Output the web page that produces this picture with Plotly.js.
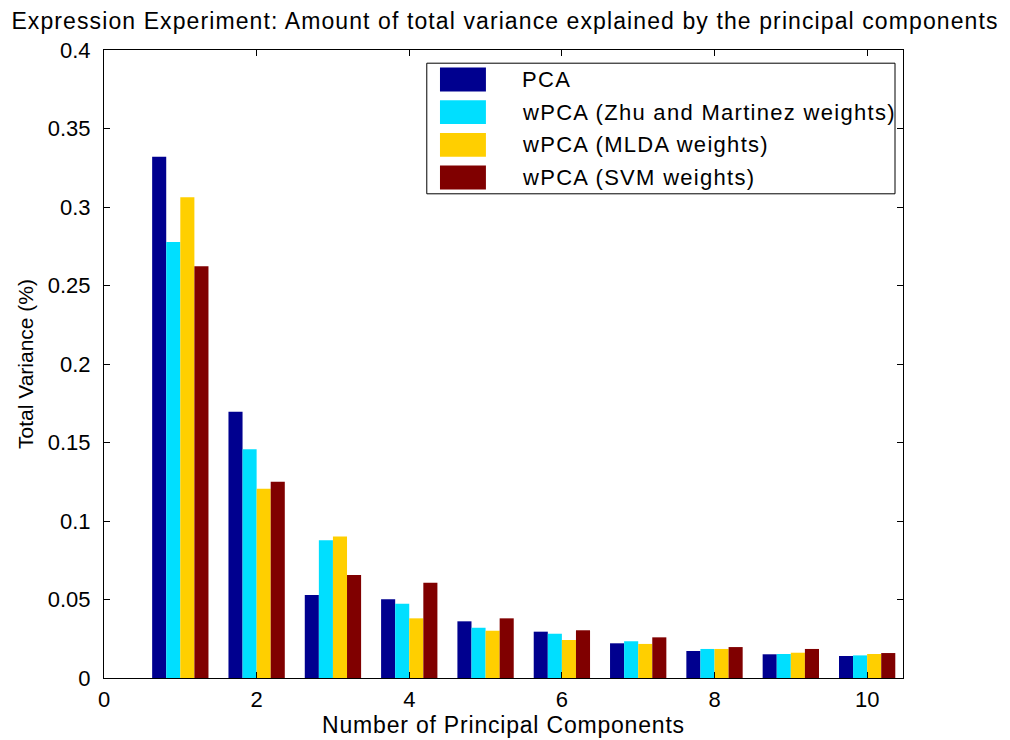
<!DOCTYPE html>
<html>
<head>
<meta charset="utf-8">
<script src="https://cdn.plot.ly/plotly-3.0.1.min.js"></script>
<style>
html,body{margin:0;padding:0;background:#fff;}
#chart{width:1010px;height:740px;}
.gtitle{letter-spacing:1.1px;}
.g-xtitle text{letter-spacing:0.8px;}
.annotation-text{letter-spacing:1.3px;}
</style>
</head>
<body>
<div id="chart"></div>
<script>
// Data
const components = [1, 2, 3, 4, 5, 6, 7, 8, 9, 10];
const seriesNames = [
  "PCA",
  "wPCA (Zhu and Martinez weights)",
  "wPCA (MLDA weights)",
  "wPCA (SVM weights)"
];
const pcaValues     = [0.332, 0.1696, 0.0529, 0.0501, 0.0361, 0.0295, 0.0221, 0.0172, 0.0151, 0.0140];
const zhuValues     = [0.2777, 0.1457, 0.0877, 0.0473, 0.0320, 0.0282, 0.0234, 0.0185, 0.0153, 0.0144];
const mldaValues    = [0.3062, 0.1206, 0.0902, 0.0380, 0.0301, 0.0242, 0.0217, 0.0185, 0.0161, 0.0153];
const svmValues     = [0.2623, 0.1250, 0.0656, 0.0607, 0.0380, 0.0304, 0.0259, 0.0197, 0.0185, 0.0159];
const xTickValues = [0, 2, 4, 6, 8, 10];
const yTickValues = [0, 0.05, 0.1, 0.15, 0.2, 0.25, 0.3, 0.35, 0.4];
const yTickLabels = ["0", "0.05", "0.1", "0.15", "0.2", "0.25", "0.3", "0.35", "0.4"];

const colors = ["#00008F", "#00DFFF", "#FFCF00", "#800000"];
const allValues = [pcaValues, zhuValues, mldaValues, svmValues];
const FONT = "Liberation Sans, Arial, Helvetica, sans-serif";

const traces = allValues.map((vals, i) => ({
  type: "bar",
  x: components,
  y: vals,
  name: seriesNames[i],
  marker: { color: colors[i], line: { width: 0 } },
  showlegend: false,
  hoverinfo: "x+y+name"
}));

// Custom legend (box + wide swatches) in paper coordinates
const shapes = [];
const annotations = [];
const legX0 = 0.404, legX1 = 0.990, legYTop = 0.979, legYBot = 0.771;
shapes.push({ type: "rect", xref: "paper", yref: "paper", x0: legX0, x1: legX1, y0: legYBot, y1: legYTop,
  line: { color: "#000", width: 1 }, fillcolor: "#fff", layer: "above" });
const rowStep = (legYTop - legYBot) / 4;
seriesNames.forEach((name, i) => {
  const yc = legYTop - rowStep * (i + 0.5);
  const h = 0.019;
  shapes.push({ type: "rect", xref: "paper", yref: "paper", x0: 0.4205, x1: 0.478, y0: yc - h, y1: yc + h,
    line: { width: 0 }, fillcolor: colors[i], layer: "above" });
  annotations.push({ xref: "paper", yref: "paper", x: 0.5207, y: yc, xanchor: "left", yanchor: "middle",
    text: name, showarrow: false, font: { family: FONT, size: 22, color: "#000" } });
});

const layout = {
  width: 1010, height: 740,
  margin: { l: 104, r: 107, t: 50, b: 62 },
  paper_bgcolor: "#fff", plot_bgcolor: "#fff",
  font: { family: FONT, color: "#000", size: 22 },
  title: { text: "Expression Experiment: Amount of total variance explained by the principal components",
    x: 0.5, xanchor: "center", y: 0.972, yanchor: "middle", font: { size: 23 } },
  barmode: "group",
  bargap: 0.262,
  bargroupgap: 0,
  xaxis: {
    range: [0, 10.47], tickvals: xTickValues, ticktext: xTickValues.map(String),
    ticks: "inside", ticklen: 6, tickcolor: "#000", mirror: "ticks",
    showline: true, linecolor: "#000", linewidth: 1, showgrid: false, zeroline: false,
    tickfont: { size: 22 }, ticklabelstandoff: 2,
    title: { text: "Number of Principal Components", font: { size: 23 }, standoff: 4 }
  },
  yaxis: {
    range: [0, 0.4], tickvals: yTickValues, ticktext: yTickLabels,
    ticks: "inside", ticklen: 6, tickcolor: "#000", mirror: "ticks",
    showline: true, linecolor: "#000", linewidth: 1, showgrid: false, zeroline: false,
    tickfont: { size: 22 }, ticklabelstandoff: 8,
    title: { text: "Total Variance (%)", font: { size: 21 }, standoff: 8 }
  },
  shapes: shapes,
  annotations: annotations
};

Plotly.newPlot("chart", traces, layout, { displayModeBar: false, staticPlot: true });
</script>
</body>
</html>
